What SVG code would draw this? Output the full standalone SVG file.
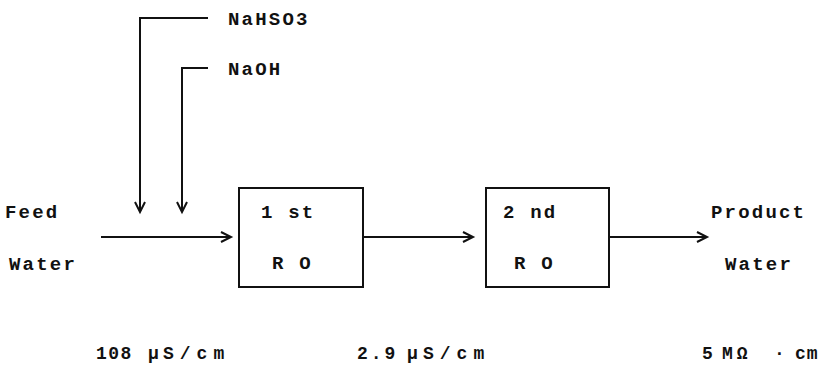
<svg xmlns="http://www.w3.org/2000/svg" width="823" height="377" viewBox="0 0 823 377">
<defs>
<style>
.t{font-family:"Liberation Mono","DejaVu Sans Mono",monospace;font-weight:bold;font-size:19px;letter-spacing:2.2px;fill:#111}
.b{font-family:"Liberation Mono","DejaVu Sans Mono",monospace;font-weight:bold;font-size:18px;fill:#111}
.box{fill:#fff;stroke:#111;stroke-width:2}
.ln{fill:none;stroke:#111;stroke-width:2}
</style>
<marker id="ah" markerUnits="userSpaceOnUse" markerWidth="14" markerHeight="14" refX="11" refY="6" orient="auto">
<path d="M1,1 L11,6 L1,11" fill="none" stroke="#111" stroke-width="2"/>
</marker>
</defs>
<g id="connectors">
<path class="ln" d="M208,18 H140 V212" marker-end="url(#ah)"/>
<path class="ln" d="M208,68 H182 V212" marker-end="url(#ah)"/>
<path class="ln" d="M101,237 H231" marker-end="url(#ah)"/>
<path class="ln" d="M363,237 H473" marker-end="url(#ah)"/>
<path class="ln" d="M609,237 H707" marker-end="url(#ah)"/>
</g>
<g id="nahso3"><text class="t" x="228" y="25">NaHSO3</text></g>
<g id="naoh"><text class="t" x="228" y="75">NaOH</text></g>
<g id="feed">
<text class="t" x="5" y="218">Feed</text>
<text class="t" x="9" y="270">Water</text>
</g>
<g id="ro1">
<rect class="box" x="239" y="188" width="124" height="99"/>
<text class="t" x="261" y="218">1 st</text>
<text class="t" x="272" y="269">R O</text>
</g>
<g id="ro2">
<rect class="box" x="486" y="188" width="123" height="99"/>
<text class="t" x="503" y="218">2 nd</text>
<text class="t" x="514" y="269">R O</text>
</g>
<g id="product">
<text class="t" x="711" y="218">Product</text>
<text class="t" x="725" y="270">Water</text>
</g>
<g id="values">
<text class="b" x="96" y="359" letter-spacing="1.5">108<tspan x="148">μ</tspan><tspan x="163" letter-spacing="6">S/cm</tspan></text>
<text class="b" x="357" y="359" letter-spacing="3">2.9<tspan x="407">μ</tspan><tspan x="423" letter-spacing="6">S/cm</tspan></text>
<text class="b" x="702" y="359">5<tspan x="722" letter-spacing="4">MΩ</tspan><tspan x="774">·</tspan><tspan x="795" letter-spacing="1">cm</tspan></text>
</g>
</svg>
